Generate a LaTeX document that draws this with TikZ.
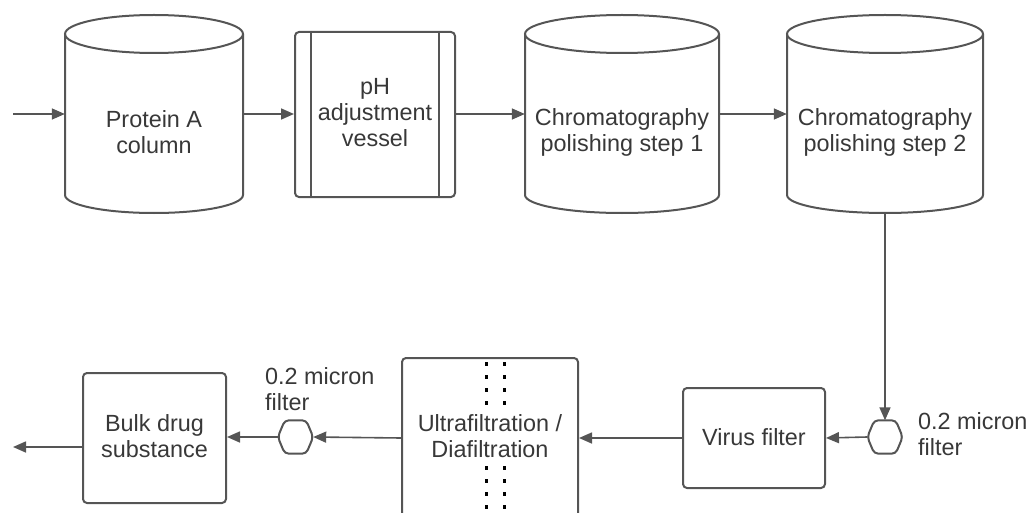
\documentclass[tikz,border=0pt]{standalone}
\usepackage{fontspec}
\setmainfont{Liberation Sans}
\usetikzlibrary{arrows.meta,shapes.geometric}
\definecolor{ln}{HTML}{555555}
\definecolor{tx}{HTML}{383838}
\begin{document}
\begin{tikzpicture}[x=1pt,y=-1pt,
  lbl/.style={text=tx, font=\fontsize{23.4}{26}\selectfont, align=center, inner sep=0pt},
  body/.style={draw=none, inner sep=0pt},
  shapeline/.style={draw=ln, line width=2pt},
  boxnode/.style={draw=ln, line width=2pt, rounded corners=4pt, inner sep=0pt},
  hexnode/.style={draw=none, minimum width=35pt, minimum height=33pt, inner sep=0pt},
  hexline/.style={draw=ln, line width=2pt, rounded corners=4pt},
  flow/.style={draw=ln, line width=1.6pt, -{Triangle[length=13pt,width=11pt]}},
  dotline/.style={draw=black, line width=3pt, dash pattern=on 4pt off 9pt}
]
\useasboundingbox (0,0) rectangle (1027,513);

% ---- top row: cylinders ----
\node[body, minimum width=178pt, minimum height=198pt] (c1) at (154,114) {};
\draw[shapeline] (65,34) -- (65,195) arc[start angle=180,end angle=360,x radius=89pt,y radius=18pt] -- (243,34);
\draw[shapeline] (154,34) ellipse[x radius=89pt, y radius=19pt];
\node[lbl] (t1) at (154,132) {Protein A\\column};

\node[boxnode, minimum width=160pt, minimum height=165pt] (ph) at (375,114.5) {};
\draw[shapeline] ([xshift=17pt]ph.north west) -- ([xshift=17pt]ph.south west);
\draw[shapeline] ([xshift=-17pt]ph.north east) -- ([xshift=-17pt]ph.south east);
\node[lbl] (tph) at (375,113) {pH\\adjustment\\vessel};

\node[body, minimum width=194pt, minimum height=198pt] (c2) at (622,114) {};
\draw[shapeline] (525,34) -- (525,195) arc[start angle=180,end angle=360,x radius=97pt,y radius=18pt] -- (719,34);
\draw[shapeline] (622,34) ellipse[x radius=97pt, y radius=19pt];
\node[lbl] (t2) at (622,132) {Chromatography\\polishing step 1};

\node[body, minimum width=196pt, minimum height=198pt] (c3) at (885,114) {};
\draw[shapeline] (787,34) -- (787,195) arc[start angle=180,end angle=360,x radius=98pt,y radius=18pt] -- (983,34);
\draw[shapeline] (885,34) ellipse[x radius=98pt, y radius=19pt];
\node[lbl] (t3) at (885,132) {Chromatography\\polishing step 2};

% ---- bottom row ----
\node[boxnode, minimum width=143pt, minimum height=130pt] (bulk) at (154.5,438) {};
\node[lbl] (tb) at (154.5,436) {Bulk drug\\substance};

\node[hexnode] (hexL) at (295.5,437) {};
\draw[hexline] (hexL.west) -- ([xshift=7pt]hexL.north west) -- ([xshift=-7pt]hexL.north east)
  -- (hexL.east) -- ([xshift=-7pt]hexL.south east) -- ([xshift=7pt]hexL.south west) -- cycle;
\node[lbl, align=left, anchor=west] (lL) at (265,389) {0.2 micron\\filter};

\node[boxnode, minimum width=176pt, minimum height=160pt] (uf) at (490,438) {};
\draw[dotline] (486,362) -- (486,520);
\draw[dotline] (504,362) -- (504,520);
\node[lbl, fill=white] (tuf) at (490,436) {Ultrafiltration /\\Diafiltration};

\node[boxnode, minimum width=142pt, minimum height=100pt] (virus) at (754,438) {};
\node[lbl] (tv) at (754,437) {Virus filter};

\node[hexnode] (hexR) at (885,437) {};
\draw[hexline] (hexR.west) -- ([xshift=7pt]hexR.north west) -- ([xshift=-7pt]hexR.north east)
  -- (hexR.east) -- ([xshift=-7pt]hexR.south east) -- ([xshift=7pt]hexR.south west) -- cycle;
\node[lbl, align=left, anchor=west] (lR) at (918,434) {0.2 micron\\filter};

% ---- connectors ----
\coordinate (in) at (13,114);
\coordinate (out) at (13,447);
\draw[flow] (in) -- (c1.west);
\draw[flow] (c1.east) -- (c1.east -| ph.west);
\draw[flow] (ph.east |- c2.west) -- (c2.west);
\draw[flow] (c2.east) -- (c3.west);
\draw[flow] (c3.south) -- (hexR.north);
\draw[flow] (hexR.west) -- (virus.east);
\draw[flow] (virus.west) -- (uf.east);
\draw[flow] (uf.west) -- (hexL.east);
\draw[flow] (hexL.west) -- (hexL.west -| bulk.east);
\draw[flow] (bulk.west |- out) -- (out);
\end{tikzpicture}
\end{document}
